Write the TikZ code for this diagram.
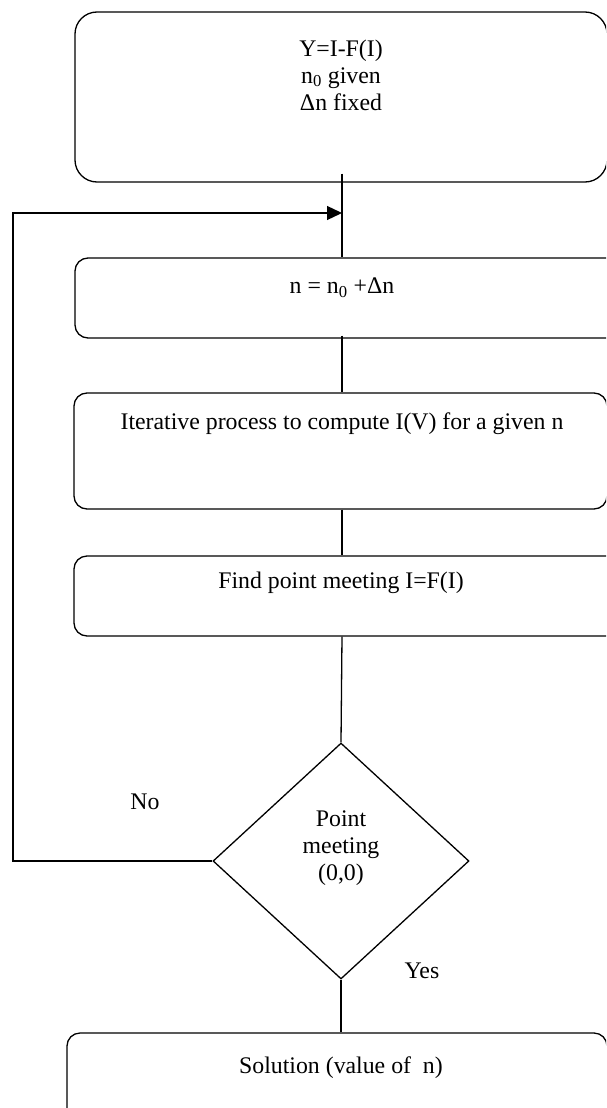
\documentclass[tikz,border=0pt]{standalone}
\usepackage{fontspec}
\setmainfont{Liberation Serif}
\usetikzlibrary{shapes.geometric,arrows.meta,calc}
\begin{document}
\begin{tikzpicture}[x=1pt,y=-1pt,
  every node/.style={font=\fontsize{23.8}{27}\selectfont},
  procbox/.style={draw,line width=1.3pt,rounded corners=13pt,inner sep=0pt},
  txt/.style={align=center,inner sep=0pt},
  conn/.style={line width=1.3pt},
  decision/.style={draw,diamond,line width=1.3pt,inner sep=0pt,minimum width=256pt,minimum height=236pt}]
\useasboundingbox (0,0) rectangle (606,1108);
\clip (0,0) rectangle (606,1108);
% boxes
\node[procbox,rounded corners=22pt,minimum width=532pt,minimum height=170pt] (top) at (341,97) {};
\node[procbox,minimum width=555pt,minimum height=80pt] (box2) at (352.5,298) {};
\node[procbox,minimum width=533pt,minimum height=116pt] (iter) at (340.5,451) {};
\node[procbox,minimum width=556pt,minimum height=80pt] (find) at (352,596) {};
\node[decision] (dia) at (341,861) {};
\node[procbox,minimum width=540pt,minimum height=100pt] (sol) at (337,1083) {};
% texts
\node[txt] (t1) at (341,75) {Y=I-F(I)\\n\textsubscript{0} given\\Δn fixed};
\node[txt] (t2) at (342,288) {n = n\textsubscript{0} +Δn};
\node[txt] (t3) at (342,424) {Iterative process to compute I(V) for a given n};
\node[txt] (t4) at (341,583) {Find point meeting I=F(I)};
\node[txt] (t5) at (341,848) {Point\\meeting\\(0,0)};
\node[txt] (no) at (145,802) {No};
\node[txt] (yes) at (422,971) {Yes};
\node[txt] (t6) at (341,1068) {Solution (value of \ n)};
% connectors
\coordinate (j) at (342,213);
\coordinate (cA) at (13,213);
\coordinate (cB) at (13,861);
\draw[conn] ($(top.south -| j)+(0,-9)$) -- (box2.north -| j);
\draw[conn] ($(box2.south -| j)+(0,-3)$) -- (iter.north -| j);
\draw[conn] (iter.south -| j) -- (find.north -| j);
\draw[conn] (find.south -| j) -- (dia.north);
\draw[conn] (dia.south) -- (sol.north -| dia.south);
\draw[conn,-{Triangle[length=15pt,width=14pt]}] (dia.west) -- (cB) -- (cA) -- (j);
\end{tikzpicture}
\end{document}
